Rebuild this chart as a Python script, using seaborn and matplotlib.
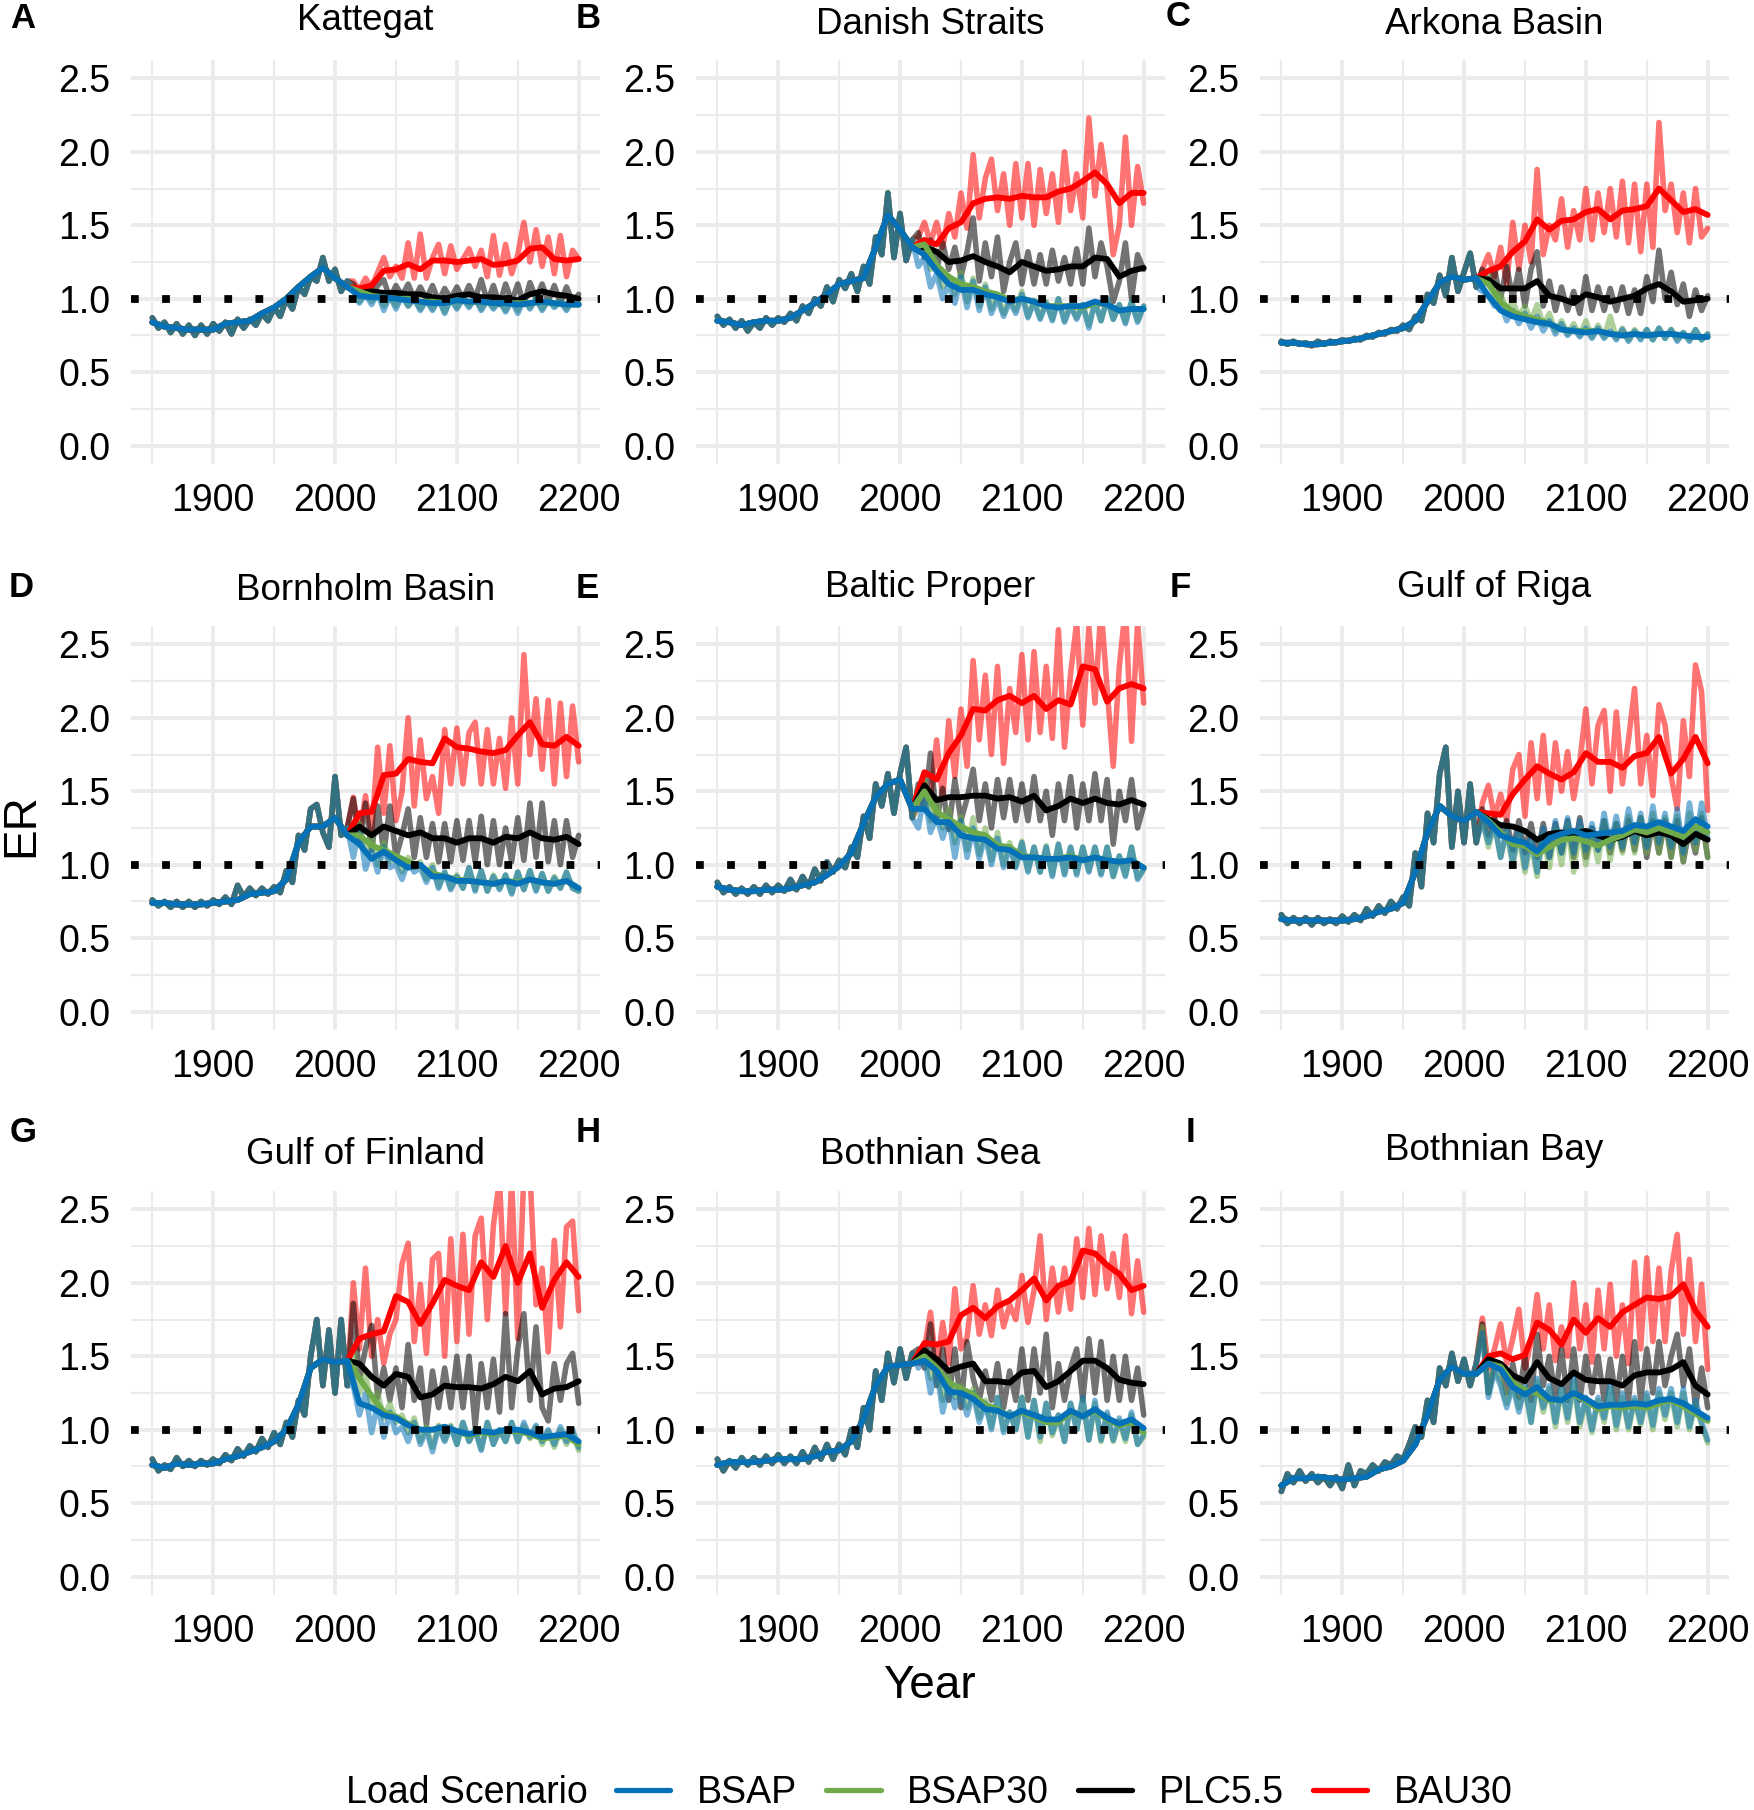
# Baltic Sea basins - ER under four load scenarios
import numpy as np
import pandas as pd
import matplotlib
matplotlib.use("Agg")
import matplotlib.pyplot as plt
from matplotlib.lines import Line2D
import seaborn as sns

# -------------------------------
# Years of the series below
# -------------------------------
hist_years = np.arange(1850, 2011, 10)
hist_raw_years = np.arange(1850, 2011, 5)
scen_years = np.arange(2020, 2201, 10)
scen_raw_years = np.arange(2015, 2201, 5)

scenarios = ["BSAP", "BSAP30", "PLC5.5", "BAU30"]
scenario_colors = ["#0571B8", "#6FAB4A", "#000000", "#FF0000"]
titles = ["Kattegat", "Danish Straits", "Arkona Basin", "Bornholm Basin", "Baltic Proper",
          "Gulf of Riga", "Gulf of Finland", "Bothnian Sea", "Bothnian Bay"]
letters = ["A", "B", "C", "D", "E", "F", "G", "H", "I"]
x_ticks = [1900, 2000, 2100, 2200]
y_ticks = [0.0, 0.5, 1.0, 1.5, 2.0, 2.5]

# -------------------------------
# A Kattegat
# -------------------------------
a_hist = [.84,.81,.80,.79,.79,.79,.83,.84,.85,.90,.94,1.0,1.08,1.15,1.21,1.14,1.08]
a_hist_raw = [.87,.80,.84,.77,.83,.76,.82,.75,.82,.76,
    .83,.78,.84,.76,.86,.80,.86,.82,.90,.85,
    .94,.88,1.0,.93,1.08,1.03,1.15,1.12,1.28,1.12,
    1.2,1.05,1.12]
a_bsap = [1.02,1.01,1.01,1.0,.99,.98,.97,.97,.99,.98,.98,.97,.97,.96,.97,.98,.97,.96,.96]
a_bsap30 = [1.05,1.02,1.01,1.0,1.0,.98,.98,.97,.99,.98,.98,.97,.97,.97,.97,.98,.97,.96,.96]
a_plc = [1.04,1.05,1.04,1.04,1.03,1.03,1.01,1.0,1.02,1.03,1.01,1.01,1.0,.99,1.03,1.05,1.03,1.02,1.0]
a_bau = [1.07,1.09,1.19,1.2,1.235,1.2,1.26,1.26,1.25,1.26,1.27,1.23,1.24,1.26,1.34,1.35,1.27,1.26,1.27]
a_bsap_raw = [1.05,.97,1.03,.96,1.04,.92,1.02,.93,1.02,.95,
    1.0,.92,.99,.92,1.0,.90,1.0,.93,1.0,.94,
    1.01,.92,.99,.93,.99,.91,.99,.90,1.0,.93,
    1.0,.92,.99,.94,.98,.92,.99,.96]
a_bsap30_raw = [1.07,.98,1.04,.98,1.04,.95,1.02,.95,1.02,.95,
    1.0,.93,.99,.93,1.0,.91,1.0,.94,1.0,.95,
    1.0,.93,.99,.94,.99,.92,.99,.92,1.0,.94,
    1.0,.93,.99,.95,.98,.93,.99,.97]
a_plc_raw = [1.10,1.03,1.08,1.02,1.09,1.13,1.0,1.09,1.02,1.1,
    1.0,1.08,1.0,1.09,.98,1.07,1.0,1.08,1.0,1.09,
    1.0,1.13,.98,1.09,.96,1.1,.98,1.1,.96,1.11,
    1.0,1.1,.98,1.09,.97,1.08,.98,1.03]
a_bau_raw = [1.12,1.06,1.14,1.08,1.18,1.28,1.15,1.22,1.14,1.38,
    1.14,1.44,1.14,1.28,1.37,1.17,1.36,1.2,1.27,1.34,
    1.22,1.33,1.15,1.43,1.16,1.37,1.17,1.3,1.52,1.25,
    1.47,1.22,1.42,1.17,1.43,1.15,1.33,1.27]

# -------------------------------
# B Danish Straits
# -------------------------------
b_hist = [.85,.84,.82,.84,.85,.85,.87,.92,.97,1.03,1.10,1.12,1.14,1.35,1.57,1.47,1.35]
b_hist_raw = [.88,.82,.86,.8,.85,.78,.84,.8,.87,.82,
    .87,.84,.9,.85,.95,.9,1.0,.95,1.08,.98,
    1.13,1.07,1.17,1.05,1.22,1.1,1.42,1.3,1.72,1.28,
    1.58,1.26,1.4]
b_bsap = [1.30,1.19,1.10,1.06,1.06,1.03,1.01,.98,1.0,.98,.95,.94,.95,.95,.98,.96,.92,.93,.93]
b_bsap30 = [1.37,1.23,1.15,1.10,1.08,1.05,1.03,.99,1.0,.98,.95,.95,.95,.94,.97,.96,.92,.93,.93]
b_plc = [1.35,1.32,1.25,1.26,1.29,1.25,1.22,1.18,1.25,1.22,1.19,1.2,1.22,1.22,1.28,1.27,1.15,1.19,1.21]
b_bau = [1.40,1.37,1.48,1.52,1.65,1.68,1.69,1.68,1.70,1.69,1.69,1.73,1.75,1.80,1.86,1.78,1.65,1.72,1.72]
b_bsap_raw = [1.22,1.28,1.08,1.17,1.0,1.1,.97,1.15,.94,1.12,
    .92,1.08,.9,1.0,.88,.98,.9,1.03,.87,.98,
    .86,.97,.85,1.0,.84,.95,.86,.96,.8,.98,
    .85,1.0,.86,.96,.83,.98,.84,.95]
b_bsap30_raw = [1.35,1.4,1.2,1.22,1.08,1.15,1.03,1.18,.98,1.14,
    .95,1.1,.93,1.03,.9,1.0,.92,1.05,.88,.99,
    .87,.98,.86,1.0,.85,.96,.87,.96,.82,.98,
    .85,1.0,.86,.96,.84,.98,.85,.95]
b_plc_raw = [1.45,1.28,1.4,1.2,1.38,1.2,1.35,1.15,1.32,1.55,
    1.12,1.38,1.15,1.42,1.05,1.25,1.38,1.1,1.32,1.1,
    1.3,1.1,1.33,1.12,1.28,1.1,1.34,1.1,1.48,1.15,
    1.38,1.22,.98,1.12,1.38,1.0,1.3,1.2]
b_bau_raw = [1.42,1.52,1.38,1.52,1.35,1.58,1.42,1.72,1.48,1.98,
    1.55,1.82,1.95,1.6,1.85,1.5,1.92,1.55,1.92,1.5,
    1.88,1.58,1.85,1.52,2.0,1.6,1.85,1.55,2.23,1.7,
    2.05,1.75,1.30,1.5,2.1,1.5,1.9,1.65]

# -------------------------------
# C Arkona Basin
# -------------------------------
c_hist = [.70,.70,.69,.69,.70,.71,.72,.74,.76,.78,.80,.85,.98,1.11,1.15,1.13,1.14]
c_hist_raw = [.71,.69,.71,.69,.70,.68,.71,.69,.71,.70,
    .72,.71,.73,.72,.75,.74,.77,.76,.79,.78,
    .82,.79,.88,.85,1.03,.97,1.16,1.02,1.28,1.05,
    1.18,1.31,1.08]
c_bsap = [1.02,.92,.88,.86,.84,.83,.79,.78,.77,.78,.76,.75,.76,.75,.76,.76,.75,.74,.74]
c_bsap30 = [1.1,.98,.91,.88,.86,.83,.79,.78,.78,.78,.76,.75,.76,.75,.76,.76,.75,.74,.74]
c_plc = [1.13,1.07,1.07,1.07,1.12,1.02,1.0,.97,1.03,1.01,.98,1.0,1.02,1.07,1.1,1.05,.98,.99,1.0]
c_bau = [1.19,1.22,1.32,1.39,1.54,1.47,1.53,1.54,1.59,1.61,1.54,1.6,1.61,1.63,1.75,1.67,1.59,1.61,1.57]
c_bsap_raw = [1.05,1.02,.95,.97,.85,.92,.83,.9,.8,.88,
    .78,.85,.76,.83,.75,.8,.74,.8,.73,.8,
    .73,.78,.72,.79,.71,.78,.72,.79,.72,.8,
    .73,.79,.71,.77,.71,.79,.72,.76]
c_bsap30_raw = [1.12,1.15,1.02,1.03,.92,.98,.88,.95,.85,.96,
    .82,.9,.78,.85,.76,.83,.75,.85,.74,.82,
    .74,.88,.73,.8,.72,.79,.73,.79,.72,.8,
    .73,.79,.72,.77,.72,.79,.72,.76]
c_plc_raw = [1.2,1.1,1.2,1.0,1.22,1.0,1.2,.95,1.2,1.32,
    .95,1.12,.92,1.08,.92,1.05,.9,1.15,.92,1.08,
    .92,1.07,.92,1.08,.9,1.06,.9,1.15,.98,1.33,
    1.0,1.18,.96,1.1,.88,1.06,.92,1.02]
c_bau_raw = [1.2,1.3,1.15,1.35,1.1,1.52,1.2,1.5,1.25,1.88,
    1.3,1.5,1.4,1.68,1.35,1.6,1.4,1.75,1.4,1.72,
    1.45,1.75,1.42,1.8,1.38,1.78,1.32,1.78,1.35,2.2,
    1.6,1.78,1.45,1.72,1.38,1.75,1.42,1.48]

# -------------------------------
# D Bornholm Basin
# -------------------------------
d_hist = [.74,.74,.73,.73,.73,.74,.75,.76,.80,.81,.82,.90,1.15,1.26,1.26,1.32,1.2]
d_hist_raw = [.76,.72,.75,.71,.75,.71,.75,.71,.75,.72,
    .76,.73,.78,.73,.86,.78,.84,.79,.84,.8,
    .85,.81,.96,.88,1.2,1.1,1.38,1.41,1.22,1.12,
    1.6,1.2,1.25]
d_bsap = [1.14,1.04,1.09,1.03,.98,1.0,.92,.92,.89,.89,.88,.87,.89,.87,.9,.88,.87,.89,.84]
d_bsap30 = [1.2,1.13,1.1,1.06,1.02,.99,.94,.92,.9,.89,.88,.87,.89,.88,.9,.88,.87,.89,.84]
d_plc = [1.26,1.2,1.26,1.23,1.2,1.22,1.18,1.18,1.15,1.18,1.18,1.15,1.19,1.18,1.22,1.18,1.17,1.19,1.14]
d_bau = [1.35,1.36,1.61,1.62,1.72,1.70,1.69,1.86,1.8,1.79,1.77,1.76,1.78,1.88,1.97,1.82,1.81,1.87,1.81]
d_bsap_raw = [1.05,1.25,.97,1.1,.95,1.12,.98,1.0,.9,1.02,
    .95,.98,.88,.98,.84,.95,.83,.92,.84,.98,
    .82,.96,.82,.92,.83,.93,.8,.95,.83,.96,
    .82,.94,.82,.91,.84,.95,.84,.82]
d_bsap30_raw = [1.2,1.28,1.08,1.2,1.0,1.15,1.02,1.05,.95,1.05,
    .98,1.02,.9,1.0,.85,.95,.84,.93,.84,.98,
    .83,.96,.82,.93,.84,.93,.81,.95,.83,.96,
    .83,.94,.82,.92,.84,.95,.84,.82]
d_plc_raw = [1.45,1.15,1.42,1.1,1.4,1.08,1.4,1.05,1.2,1.38,
    1.05,1.32,1.05,1.28,1.02,1.28,1.02,1.3,1.03,1.3,
    1.02,1.33,1.0,1.3,1.0,1.25,1.02,1.32,1.03,1.42,
    1.05,1.42,1.02,1.3,1.0,1.3,1.05,1.2]
d_bau_raw = [1.46,1.2,1.47,1.2,1.8,1.35,1.81,1.3,1.5,2.0,
    1.4,1.85,1.45,1.6,1.35,1.92,1.55,1.93,1.55,1.9,
    1.97,1.55,1.92,1.55,1.86,1.52,2.0,1.55,2.43,1.75,
    2.13,1.65,2.12,1.55,2.1,1.6,2.08,1.7]

# -------------------------------
# E Baltic Proper
# -------------------------------
e_hist = [.85,.83,.82,.82,.83,.83,.84,.86,.88,.93,.99,1.08,1.28,1.46,1.55,1.58,1.38]
e_hist_raw = [.88,.81,.85,.8,.84,.8,.85,.8,.86,.81,
    .86,.82,.9,.83,.92,.85,.97,.89,1.02,.95,
    1.03,.98,1.12,1.05,1.33,1.18,1.55,1.4,1.62,1.35,
    1.62,1.8,1.32]
e_bsap = [1.38,1.29,1.29,1.2,1.18,1.17,1.11,1.1,1.05,1.05,1.04,1.04,1.05,1.03,1.05,1.03,1.02,1.03,.98]
e_bsap30 = [1.5,1.36,1.31,1.26,1.22,1.2,1.13,1.12,1.06,1.05,1.04,1.04,1.06,1.03,1.05,1.03,1.02,1.03,.98]
e_plc = [1.54,1.44,1.46,1.46,1.47,1.47,1.45,1.46,1.43,1.47,1.37,1.4,1.45,1.42,1.45,1.42,1.41,1.44,1.41]
e_bau = [1.63,1.58,1.76,1.88,2.06,2.05,2.12,2.15,2.1,2.15,2.06,2.12,2.09,2.35,2.33,2.11,2.2,2.23,2.2]
e_bsap_raw = [1.25,1.48,1.22,1.33,1.18,1.32,1.05,1.3,1.05,1.25,
    1.04,1.2,1.0,1.18,.98,1.12,.98,1.15,.95,1.12,
    .95,1.12,.92,1.14,.93,1.12,.93,1.12,.95,1.12,
    .93,1.12,.92,1.06,.92,1.12,.9,.97]
e_bsap30_raw = [1.4,1.58,1.3,1.45,1.25,1.38,1.15,1.33,1.1,1.32,
    1.07,1.25,1.03,1.22,1.0,1.15,.99,1.16,.96,1.12,
    .95,1.13,.93,1.14,.94,1.12,.94,1.12,.96,1.12,
    .94,1.12,.92,1.06,.93,1.12,.91,.97]
e_plc_raw = [1.55,1.38,1.76,1.3,1.52,1.24,1.58,1.3,1.45,1.65,
    1.3,1.55,1.25,1.58,1.32,1.58,1.3,1.55,1.3,1.6,
    1.3,1.5,1.2,1.55,1.3,1.6,1.25,1.55,1.3,1.62,
    1.3,1.58,1.14,1.5,1.3,1.58,1.25,1.4]
e_bau_raw = [1.4,1.55,1.45,1.85,1.45,1.98,1.6,2.06,1.67,2.39,
    1.85,2.29,1.75,2.35,1.69,2.2,1.9,2.43,1.85,2.45,
    1.9,2.35,1.86,2.6,1.8,2.3,2.65,1.95,2.62,2.1,
    2.75,2.2,1.67,2.35,2.75,1.84,2.65,2.1]

# -------------------------------
# F Gulf of Riga
# -------------------------------
f_hist = [.63,.62,.62,.62,.62,.62,.63,.65,.68,.7,.74,.95,1.22,1.4,1.33,1.3,1.36]
f_hist_raw = [.66,.6,.64,.6,.64,.59,.64,.6,.63,.6,
    .65,.61,.66,.62,.7,.65,.72,.67,.75,.7,
    .78,.72,1.08,.85,1.35,1.15,1.62,1.8,1.12,1.5,
    1.15,1.55,1.15]
f_bsap = [1.29,1.2,1.17,1.15,1.09,1.18,1.21,1.23,1.2,1.21,1.22,1.23,1.27,1.26,1.29,1.26,1.23,1.31,1.26]
f_bsap30 = [1.3,1.22,1.14,1.13,1.07,1.12,1.17,1.18,1.16,1.13,1.17,1.2,1.24,1.22,1.25,1.22,1.19,1.26,1.22]
f_plc = [1.31,1.27,1.26,1.23,1.17,1.21,1.22,1.21,1.23,1.2,1.17,1.19,1.23,1.2,1.22,1.2,1.14,1.21,1.17]
f_bau = [1.35,1.34,1.48,1.58,1.67,1.62,1.58,1.63,1.76,1.7,1.7,1.66,1.74,1.76,1.87,1.62,1.72,1.87,1.69]
f_bsap_raw = [1.3,1.15,1.28,1.05,1.25,1.02,1.25,.98,1.2,.95,
    1.25,1.05,1.3,1.08,1.32,1.08,1.3,1.1,1.28,1.1,
    1.35,1.12,1.33,1.12,1.38,1.15,1.35,1.12,1.4,1.15,
    1.35,1.12,1.38,1.08,1.42,1.15,1.42,1.18]
f_bsap30_raw = [1.32,1.12,1.28,1.05,1.22,1.0,1.2,.95,1.15,.92,
    1.2,.98,1.25,1.0,1.28,.95,1.25,1.0,1.22,1.02,
    1.3,1.03,1.28,1.08,1.33,1.08,1.32,1.08,1.35,1.08,
    1.32,1.05,1.33,1.02,1.35,1.1,1.35,1.05]
f_plc_raw = [1.38,1.2,1.32,1.2,1.3,1.1,1.3,1.08,1.28,1.05,
    1.28,1.05,1.28,1.08,1.3,1.05,1.32,1.05,1.25,1.1,
    1.3,1.08,1.28,1.1,1.3,1.1,1.32,1.05,1.3,1.08,
    1.3,1.05,1.3,1.02,1.25,1.08,1.32,1.05]
f_bau_raw = [1.42,1.54,1.32,1.48,1.3,1.65,1.75,1.33,1.83,1.45,
    1.88,1.42,1.83,1.5,1.77,1.45,1.7,2.06,1.55,1.95,
    2.05,1.5,2.04,1.55,1.85,2.2,1.55,1.88,1.47,2.09,
    1.95,1.6,1.38,1.98,1.6,2.36,2.18,1.37]

# -------------------------------
# G Gulf of Finland
# -------------------------------
g_hist = [.76,.74,.77,.76,.77,.77,.8,.82,.85,.88,.92,1.0,1.17,1.42,1.48,1.46,1.47]
g_hist_raw = [.8,.72,.76,.73,.81,.75,.79,.75,.79,.76,
    .8,.77,.83,.79,.87,.82,.89,.85,.94,.88,
    .98,.9,1.05,.95,1.2,1.1,1.5,1.75,1.3,1.68,
    1.25,1.75,1.3]
g_bsap = [1.18,1.15,1.1,1.08,1.03,1.0,1.0,1.02,.99,.97,.99,.98,1.0,1.0,.98,.95,.96,.97,.92]
g_bsap30 = [1.35,1.23,1.12,1.09,1.04,1.0,1.0,1.02,.99,.96,.98,.97,1.0,.99,.97,.94,.95,.96,.9]
g_plc = [1.45,1.36,1.3,1.38,1.36,1.22,1.24,1.3,1.29,1.29,1.28,1.31,1.36,1.33,1.4,1.24,1.28,1.29,1.33]
g_bau = [1.62,1.65,1.67,1.91,1.87,1.72,1.86,2.02,1.98,1.95,2.14,2.04,2.25,2.0,2.2,1.83,2.02,2.14,2.04]
g_bsap_raw = [1.3,1.1,1.25,.98,1.18,.95,1.12,.98,1.02,.92,
    1.05,.9,1.0,.85,1.02,.92,1.02,.9,1.05,.92,
    1.0,.86,1.05,.9,1.0,.92,1.05,.92,1.05,.95,
    1.03,.92,1.0,.9,1.02,.92,1.0,.88]
g_bsap30_raw = [1.55,1.25,1.38,1.15,1.25,1.08,1.18,1.05,1.1,.98,
    1.08,.92,1.02,.88,1.03,.93,1.03,.9,1.05,.92,
    1.0,.87,1.05,.9,1.0,.92,1.05,.92,1.03,.94,
    1.02,.9,.99,.88,1.0,.9,.98,.86]
g_plc_raw = [1.86,1.35,1.55,1.71,1.22,1.42,1.2,1.42,1.15,1.58,
    1.2,1.42,1.03,1.4,1.15,1.42,1.15,1.5,1.15,1.5,
    1.02,1.45,1.15,1.48,1.12,1.79,1.15,1.55,1.79,1.2,
    1.7,1.15,1.06,1.45,1.2,1.45,1.52,1.18]
g_bau_raw = [2.0,1.55,2.1,1.5,1.75,1.45,1.65,1.75,2.13,2.27,
    1.6,1.99,1.52,2.16,2.2,1.5,2.3,1.6,2.33,1.65,
    2.32,2.44,1.75,2.39,2.7,1.79,2.7,1.62,2.75,2.75,
    1.85,2.1,1.53,2.29,1.7,2.38,2.42,1.81]

# -------------------------------
# H Bothnian Sea
# -------------------------------
h_hist = [.76,.78,.78,.78,.79,.8,.8,.8,.82,.85,.86,.92,1.07,1.3,1.43,1.44,1.45]
h_hist_raw = [.8,.72,.79,.74,.81,.76,.81,.76,.82,.77,
    .83,.77,.82,.77,.85,.78,.88,.8,.9,.8,
    .9,.83,1.0,.88,1.15,1.0,1.4,1.2,1.52,1.32,
    1.55,1.35,1.52]
h_bsap = [1.47,1.4,1.26,1.25,1.21,1.14,1.13,1.09,1.13,1.1,1.07,1.07,1.13,1.09,1.14,1.08,1.04,1.07,1.01]
h_bsap30 = [1.5,1.42,1.32,1.28,1.24,1.17,1.14,1.09,1.12,1.09,1.05,1.05,1.12,1.09,1.13,1.07,1.03,1.05,.98]
h_plc = [1.54,1.48,1.4,1.43,1.45,1.33,1.33,1.32,1.39,1.4,1.29,1.33,1.4,1.47,1.47,1.42,1.34,1.32,1.31]
h_bau = [1.59,1.58,1.6,1.78,1.83,1.76,1.84,1.88,1.95,2.03,1.88,1.98,2.01,2.22,2.2,2.12,2.06,1.95,1.98]
h_bsap_raw = [1.42,1.5,1.25,1.42,1.12,1.3,1.15,1.25,1.1,1.25,
    1.05,1.18,1.0,1.22,.98,1.12,1.0,1.22,.95,1.2,
    .95,1.18,.98,1.1,.92,1.18,1.0,1.22,.93,1.2,
    .93,1.12,.93,1.08,.94,1.12,.9,.97]
h_bsap30_raw = [1.5,1.55,1.35,1.48,1.2,1.36,1.22,1.3,1.15,1.28,
    1.08,1.2,1.02,1.22,1.0,1.12,1.0,1.22,.95,1.2,
    .92,1.18,.96,1.1,.92,1.18,1.0,1.2,.93,1.18,
    .92,1.1,.92,1.06,.92,1.1,.9,.95]
h_plc_raw = [1.55,1.42,1.72,1.3,1.55,1.2,1.55,1.15,1.6,1.35,
    1.2,1.4,1.2,1.45,1.15,1.4,1.2,1.55,1.2,1.55,
    1.25,1.65,1.15,1.45,1.2,1.42,1.55,1.2,1.62,1.25,
    1.6,1.2,1.5,1.2,1.5,1.2,1.42,1.1]
h_bau_raw = [1.45,1.55,1.8,1.4,1.73,1.45,1.96,1.55,1.63,1.98,
    1.65,1.85,1.64,1.95,1.7,1.85,1.75,2.05,1.73,1.95,
    2.32,1.75,2.1,1.8,2.1,1.82,2.3,1.9,2.37,1.92,
    2.32,1.96,2.2,1.9,2.32,1.79,2.15,1.8]

# -------------------------------
# I Bothnian Bay
# -------------------------------
i_hist = [.62,.67,.67,.68,.67,.66,.67,.68,.73,.75,.79,.9,1.1,1.34,1.43,1.38,1.38]
i_hist_raw = [.58,.7,.64,.72,.65,.7,.64,.68,.62,.68,
    .6,.76,.62,.72,.7,.76,.72,.78,.76,.82,
    .8,.9,1.02,.95,1.2,1.05,1.42,1.3,1.52,1.33,
    1.48,1.3,1.45]
i_bsap = [1.45,1.41,1.29,1.24,1.29,1.21,1.2,1.25,1.21,1.16,1.17,1.17,1.18,1.17,1.2,1.21,1.18,1.13,1.08]
i_bsap30 = [1.45,1.43,1.32,1.27,1.25,1.2,1.2,1.24,1.2,1.14,1.16,1.15,1.16,1.15,1.18,1.2,1.16,1.11,1.06]
i_plc = [1.48,1.45,1.37,1.33,1.46,1.35,1.31,1.39,1.34,1.33,1.33,1.3,1.37,1.39,1.39,1.41,1.46,1.3,1.24]
i_bau = [1.5,1.52,1.48,1.51,1.73,1.68,1.58,1.75,1.66,1.76,1.7,1.8,1.85,1.9,1.89,1.91,1.99,1.81,1.7]
i_bsap_raw = [1.66,1.22,1.4,1.3,1.15,1.3,1.12,1.3,1.05,1.35,
    1.15,1.3,1.05,1.3,1.08,1.35,1.05,1.22,1.0,1.22,
    1.08,1.3,1.03,1.25,1.02,1.22,1.05,1.25,1.03,1.28,
    1.1,1.28,1.05,1.28,1.02,1.2,1.05,.93]
i_bsap30_raw = [1.7,1.25,1.42,1.33,1.18,1.32,1.15,1.28,1.05,1.33,
    1.12,1.28,1.02,1.28,1.05,1.32,1.02,1.2,.98,1.2,
    1.05,1.28,1.0,1.22,1.0,1.2,1.03,1.23,1.0,1.25,
    1.07,1.25,1.02,1.25,1.0,1.18,1.03,.91]
i_plc_raw = [1.72,1.25,1.45,1.45,1.25,1.45,1.22,1.5,1.2,1.65,
    1.3,1.5,1.22,1.55,1.2,1.55,1.2,1.5,1.25,1.5,
    1.2,1.48,1.2,1.5,1.2,1.6,1.2,1.55,1.25,1.6,
    1.3,1.5,1.65,1.3,1.55,1.15,1.42,1.15]
i_bau_raw = [1.76,1.42,1.55,1.72,1.45,1.62,1.82,1.42,1.6,1.92,
    1.55,1.85,1.47,1.7,1.5,2.0,1.55,1.85,1.46,1.95,
    1.55,1.99,1.5,1.85,1.45,2.14,1.55,2.17,1.6,2.1,
    1.6,2.08,2.33,1.65,2.16,1.6,1.99,1.41]

hist_all = [a_hist, b_hist, c_hist, d_hist, e_hist, f_hist, g_hist, h_hist, i_hist]
hist_raw_all = [a_hist_raw, b_hist_raw, c_hist_raw, d_hist_raw, e_hist_raw,
                f_hist_raw, g_hist_raw, h_hist_raw, i_hist_raw]
smooth_all = [[a_bsap, a_bsap30, a_plc, a_bau], [b_bsap, b_bsap30, b_plc, b_bau],
              [c_bsap, c_bsap30, c_plc, c_bau], [d_bsap, d_bsap30, d_plc, d_bau],
              [e_bsap, e_bsap30, e_plc, e_bau], [f_bsap, f_bsap30, f_plc, f_bau],
              [g_bsap, g_bsap30, g_plc, g_bau], [h_bsap, h_bsap30, h_plc, h_bau],
              [i_bsap, i_bsap30, i_plc, i_bau]]
raw_all = [[a_bsap_raw, a_bsap30_raw, a_plc_raw, a_bau_raw],
           [b_bsap_raw, b_bsap30_raw, b_plc_raw, b_bau_raw],
           [c_bsap_raw, c_bsap30_raw, c_plc_raw, c_bau_raw],
           [d_bsap_raw, d_bsap30_raw, d_plc_raw, d_bau_raw],
           [e_bsap_raw, e_bsap30_raw, e_plc_raw, e_bau_raw],
           [f_bsap_raw, f_bsap30_raw, f_plc_raw, f_bau_raw],
           [g_bsap_raw, g_bsap30_raw, g_plc_raw, g_bau_raw],
           [h_bsap_raw, h_bsap30_raw, h_plc_raw, h_bau_raw],
           [i_bsap_raw, i_bsap30_raw, i_plc_raw, i_bau_raw]]

# -------------------------------
# Layout, in pixels of the output
# -------------------------------
W, H = 1754, 1810
col_left = [131, 696, 1260]
row_top = [60, 626, 1191]
panel_w, panel_h = 469, 404
title_y = [21, 25, 25, 590, 587, 587, 1155, 1155, 1150]
letter_xy = [(23, 18), (588, 18), (1178, 17), (21, 587), (587, 588), (1180, 587),
             (23, 1132), (588, 1132), (1190, 1133)]


def long_table(hist_x, hist_y, scen_x, scen_ys):
    frames = []
    for name, ys in zip(scenarios, scen_ys):
        frames.append(pd.DataFrame({
            "year": np.concatenate([hist_x, scen_x]),
            "er": np.concatenate([hist_y, ys]),
            "scenario": name,
        }))
    return pd.concat(frames, ignore_index=True)


sns.set_style("white")
plt.rcParams["font.family"] = ["Liberation Sans", "DejaVu Sans"]
plt.rcParams["text.color"] = "black"
plt.rcParams["xtick.color"] = "black"
plt.rcParams["ytick.color"] = "black"

fig = plt.figure(figsize=(W / 100, H / 100), dpi=100)
palette = dict(zip(scenarios, scenario_colors))
draw_order = scenarios[::-1]

for k in range(9):
    row, col = k // 3, k % 3
    ax = fig.add_axes([col_left[col] / W, 1 - (row_top[row] + panel_h) / H,
                       panel_w / W, panel_h / H])

    raw_df = long_table(hist_raw_years, hist_raw_all[k], scen_raw_years, raw_all[k])
    smooth_df = long_table(hist_years, hist_all[k], scen_years, smooth_all[k])

    sns.lineplot(data=raw_df, x="year", y="er", hue="scenario", hue_order=draw_order,
                 palette=palette, estimator=None, errorbar=None, alpha=0.55,
                 linewidth=4.0, legend=False, ax=ax)
    sns.lineplot(data=smooth_df, x="year", y="er", hue="scenario", hue_order=draw_order,
                 palette=palette, estimator=None, errorbar=None,
                 linewidth=4.2, legend=False, ax=ax)
    ax.axhline(1.0, color="black", linewidth=5.6, linestyle=(0, (1, 3)),
               dash_capstyle="butt", zorder=5)

    ax.set_xlim(1832.5, 2217.5)
    ax.set_ylim(-0.125, 2.625)
    ax.set_xticks(x_ticks)
    ax.set_xticks([1850, 1950, 2050, 2150], minor=True)
    ax.set_yticks(y_ticks)
    ax.set_yticks([0.25, 0.75, 1.25, 1.75, 2.25], minor=True)
    ax.set_yticklabels([f"{v:.1f}" for v in y_ticks])
    ax.grid(True, which="major", color="#EBEBEB", linewidth=2.8)
    ax.grid(True, which="minor", color="#EBEBEB", linewidth=1.5)
    ax.set_axisbelow(True)
    ax.tick_params(which="both", length=0)
    ax.tick_params(axis="x", labelsize=27, pad=14)
    ax.tick_params(axis="y", labelsize=27, pad=15)
    ax.set_xlabel("")
    ax.set_ylabel("")
    for spine in ax.spines.values():
        spine.set_visible(False)

    fig.text((col_left[col] + panel_w / 2) / W, 1 - title_y[k] / H, titles[k],
             fontsize=26.5, ha="center", va="center")
    fig.text(letter_xy[k][0] / W, 1 - letter_xy[k][1] / H, letters[k],
             fontsize=25, fontweight="bold", ha="center", va="center")

fig.text(21 / W, 1 - 825 / H, "ER", fontsize=33, rotation=90, ha="center", va="center")
fig.text(929 / W, 1 - 1686 / H, "Year", fontsize=33, ha="center", va="center")

# -------------------------------
# Legend along the bottom
# -------------------------------
fig.text(346 / W, 1 - 1793 / H, "Load Scenario", fontsize=27, ha="left", va="center")
handles = [Line2D([], [], color=c, linewidth=3.8) for c in scenario_colors]
fig.legend(handles, scenarios, loc="center left", bbox_to_anchor=(616 / W, 1 - 1793 / H),
           ncol=4, frameon=False, fontsize=27, handlelength=1.45, handletextpad=0.7,
           columnspacing=0.78, borderpad=0, borderaxespad=0)

fig.savefig("out.png", dpi=100)
